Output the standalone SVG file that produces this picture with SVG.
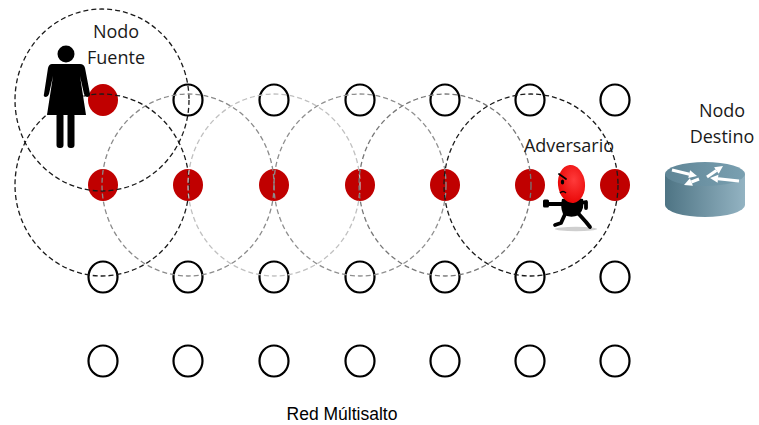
<svg xmlns="http://www.w3.org/2000/svg" width="759" height="425" viewBox="0 0 759 425">
  <defs>
    <style>
      .free { fill: #ffffff; stroke: #000000; stroke-width: 2.2; }
      .busy { fill: #c00000; stroke: none; }
      .range { fill: none; stroke-width: 1.3; stroke-dasharray: 5 3; }
      .lbl { font-family: "Open Sans", "Noto Sans", sans-serif; font-size: 18px; fill: #1a1a1a; text-anchor: middle; }
      .cap { font-family: "Liberation Sans", Arial, sans-serif; font-size: 17.5px; fill: #000000; text-anchor: middle; }
      .shaft { stroke: #ffffff; stroke-width: 3; fill: none; }
      .head { fill: #ffffff; }
    </style>
    <linearGradient id="cylSide" x1="0" y1="0" x2="1" y2="0">
      <stop offset="0" stop-color="#4e7484"/>
      <stop offset="1" stop-color="#93b3c2"/>
    </linearGradient>
    <linearGradient id="cylTop" x1="0" y1="0" x2="1" y2="0">
      <stop offset="0" stop-color="#5f8596"/>
      <stop offset="1" stop-color="#7aa0b1"/>
    </linearGradient>
    <radialGradient id="headFill" cx="0.6" cy="0.4" r="0.7">
      <stop offset="0" stop-color="#ff3b3b"/>
      <stop offset="1" stop-color="#e60000"/>
    </radialGradient>
  </defs>
  <rect width="759" height="425" fill="#ffffff"/>

  <!-- grid of sensor nodes -->
  <g id="row1">
    <ellipse class="busy" cx="103" cy="100" rx="15" ry="16"/>
    <ellipse class="free" cx="188" cy="100" rx="14.5" ry="15.5"/>
    <ellipse class="free" cx="274" cy="100" rx="14.5" ry="15.5"/>
    <ellipse class="free" cx="360" cy="100" rx="14.5" ry="15.5"/>
    <ellipse class="free" cx="445" cy="100" rx="14.5" ry="15.5"/>
    <ellipse class="free" cx="530" cy="100" rx="14.5" ry="15.5"/>
    <ellipse class="free" cx="615" cy="100" rx="14.5" ry="15.5"/>
  </g>
  <g id="row2">
    <ellipse class="busy" cx="103" cy="185" rx="15" ry="16"/>
    <ellipse class="busy" cx="188" cy="185" rx="15" ry="16"/>
    <ellipse class="busy" cx="274" cy="185" rx="15" ry="16"/>
    <ellipse class="busy" cx="360" cy="185" rx="15" ry="16"/>
    <ellipse class="busy" cx="445" cy="185" rx="15" ry="16"/>
    <ellipse class="busy" cx="530" cy="185" rx="15" ry="16"/>
    <ellipse class="busy" cx="615" cy="185" rx="15" ry="16"/>
  </g>
  <g id="row3">
    <ellipse class="free" cx="103" cy="277" rx="14.5" ry="15.5"/>
    <ellipse class="free" cx="188" cy="277" rx="14.5" ry="15.5"/>
    <ellipse class="free" cx="274" cy="277" rx="14.5" ry="15.5"/>
    <ellipse class="free" cx="360" cy="277" rx="14.5" ry="15.5"/>
    <ellipse class="free" cx="445" cy="277" rx="14.5" ry="15.5"/>
    <ellipse class="free" cx="530" cy="277" rx="14.5" ry="15.5"/>
    <ellipse class="free" cx="615" cy="277" rx="14.5" ry="15.5"/>
  </g>
  <g id="row4">
    <ellipse class="free" cx="103" cy="361" rx="14.5" ry="15.5"/>
    <ellipse class="free" cx="188" cy="361" rx="14.5" ry="15.5"/>
    <ellipse class="free" cx="274" cy="361" rx="14.5" ry="15.5"/>
    <ellipse class="free" cx="360" cy="361" rx="14.5" ry="15.5"/>
    <ellipse class="free" cx="445" cy="361" rx="14.5" ry="15.5"/>
    <ellipse class="free" cx="530" cy="361" rx="14.5" ry="15.5"/>
    <ellipse class="free" cx="615" cy="361" rx="14.5" ry="15.5"/>
  </g>

  <!-- radio ranges of each hop -->
  <g id="ranges">
    <ellipse class="range" cx="102" cy="100" rx="87" ry="91" stroke="#1a1a1a"/>
    <ellipse class="range" cx="102" cy="185" rx="87" ry="91" stroke="#1a1a1a"/>
    <ellipse class="range" cx="188" cy="185" rx="86" ry="91" stroke="#8a8a8a"/>
    <ellipse class="range" cx="274" cy="185" rx="86" ry="91" stroke="#c0c0c0"/>
    <ellipse class="range" cx="360" cy="185" rx="86" ry="91" stroke="#8f8f8f"/>
    <ellipse class="range" cx="445" cy="185" rx="86" ry="91" stroke="#777777"/>
    <ellipse class="range" cx="531" cy="185" rx="87" ry="91" stroke="#1a1a1a"/>
  </g>

  <!-- source node: person -->
  <g id="source" fill="#000000">
    <circle cx="66" cy="54" r="8.5"/>
    <path d="M52,64 L80,64 Q84,64 85,68 L90,94 Q90,97 87,97 Q85,97 84,94 L80,76 L86,115 L47,115 L53,76 L49,94 Q48,97 46,97 Q43,97 44,94 L48,68 Q49,64 52,64 Z"/>
    <rect x="56.5" y="113" width="7" height="35" rx="3"/>
    <rect x="67.5" y="113" width="7" height="35" rx="3"/>
    <text class="lbl" x="116" y="38">Nodo</text>
    <text class="lbl" x="116" y="64">Fuente</text>
  </g>

  <!-- adversary -->
  <g id="adversary">
    <text class="lbl" x="569" y="152">Adversario</text>
    <ellipse cx="576" cy="229" rx="21" ry="2.2" fill="#cfcfcf"/>
    <g fill="#000000" stroke="#000000" stroke-linecap="round" stroke-linejoin="round">
      <path d="M562,199 Q572,196 583,199 Q585,208 579,215 Q570,219 563,214 Q560,207 562,199 Z" stroke="none"/>
      <path d="M564,204 L548,204" stroke-width="3.8" fill="none"/>
      <rect x="543" y="199.5" width="6" height="8" rx="1.5" stroke="none"/>
      <path d="M580,203 L586,202 L586,208" stroke-width="3.8" fill="none"/>
      <path d="M566,212 L561,223 L555,225" stroke-width="3.8" fill="none"/>
      <path d="M577,212 L586,222 L590,227" stroke-width="3.8" fill="none"/>
    </g>
    <ellipse cx="571.5" cy="184" rx="13.5" ry="19" fill="url(#headFill)" transform="rotate(-6 571.5 184)"/>
    <path d="M559,174 L566,179" stroke="#000" stroke-width="1.8" stroke-linecap="round"/>
    <ellipse cx="562.5" cy="182" rx="1.7" ry="2.6" fill="#000"/>
    <path d="M560,193 Q563,190 566,193" stroke="#000" stroke-width="1.4" fill="none"/>
  </g>

  <!-- destination node: router -->
  <g id="destination">
    <text class="lbl" x="722" y="117">Nodo</text>
    <text class="lbl" x="722" y="143">Destino</text>
    <path d="M665,174 L665,205 A40,12 0 0 0 745,205 L745,174 Z" fill="url(#cylSide)"/>
    <ellipse cx="705" cy="174" rx="40" ry="12" fill="url(#cylTop)"/>
    <path class="shaft" d="M672,170 L689.5,174.2"/>
    <path class="head" d="M697,176 L688.3,178 L690.1,170.2 Z"/>
    <path class="shaft" d="M707,177 L716.4,170.5"/>
    <path class="head" d="M723,166 L718.7,173.8 L714.1,167.2 Z"/>
    <path class="shaft" d="M699,179 L691.4,182"/>
    <path class="head" d="M684,185 L689.9,178.3 L692.9,185.7 Z"/>
    <path class="shaft" d="M739,181 L718,178.8"/>
    <path class="head" d="M710,178 L718.4,174.8 L717.6,182.8 Z"/>
  </g>

  <text id="caption" class="cap" x="342" y="420">Red Múltisalto</text>
</svg>
